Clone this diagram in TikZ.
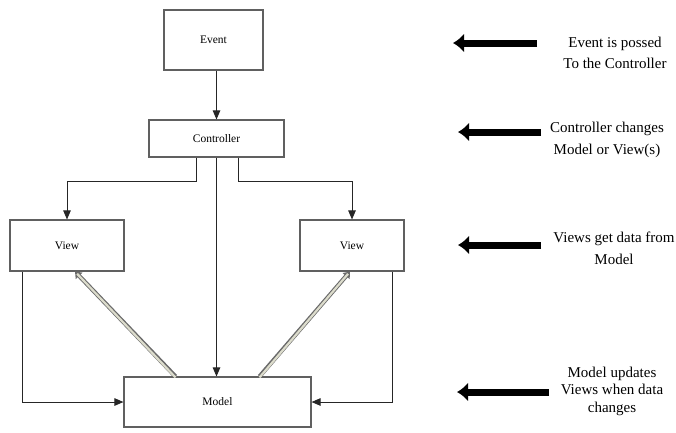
\documentclass[tikz,border=0pt]{standalone}
\usepackage{fontspec}
\setmainfont{Liberation Serif}
\usetikzlibrary{arrows.meta,calc}

\definecolor{boxline}{HTML}{606060}
\definecolor{pipefill}{HTML}{DCDCCC}
\definecolor{pipeline}{HTML}{6A6A6A}

\tikzset{
  box/.style={draw=boxline, line width=1.1pt, fill=white, inner sep=0pt,
    font=\fontsize{11.5}{13}\selectfont},
  conn/.style={draw=black!85, line width=0.9pt,
    -{Triangle[length=9pt,width=7.5pt]}},
  pipeouter/.style={draw=pipeline, line width=4.2pt,
    -{Triangle[length=6pt,width=9pt]}},
  pipeinner/.style={draw=pipefill, line width=2.2pt, shorten >=3pt},
  bigarrow/.style={draw=black, line width=7pt,
    -{Latex[length=11pt,width=19pt]}},
  note/.style={align=center, inner sep=0pt}
}

\begin{document}
\begin{tikzpicture}[x=1pt,y=-1pt]
\useasboundingbox (0,0) rectangle (676,432);

% boxes of the MVC diagram
\node[box, minimum width=99pt, minimum height=60pt] (event) at (213.5,40) {Event};
\node[box, minimum width=135pt, minimum height=37pt] (ctrl) at (216.5,138.5) {Controller};
\node[box, minimum width=114pt, minimum height=51pt] (lview) at (67,245.5) {View};
\node[box, minimum width=104pt, minimum height=51pt] (rview) at (352,245.5) {View};
\node[box, minimum width=187pt, minimum height=50pt] (model) at (217.5,402) {Model};

% control flow
\draw[conn] (ctrl.north |- event.south) -- (ctrl.north);
\draw[conn] ([xshift=-20.5pt]ctrl.south) -- ++(0,-24pt) -| (lview.north);
\draw[conn] ([xshift=21.5pt]ctrl.south) -- ++(0,-24pt) -| (rview.north);
\draw[conn] (ctrl.south) -- (ctrl.south |- model.north);
\draw[conn] ([xshift=13pt]lview.south west) |- (model.west);
\draw[conn] ([xshift=-12pt]rview.south east) |- (model.east);

% data pulled by the views from the model
\draw[pipeouter] ([xshift=-42pt]model.north) -- ([xshift=8pt]lview.south);
\draw[pipeinner] ([xshift=-42pt,yshift=-1pt]model.north) -- ([xshift=8pt]lview.south);
\draw[pipeouter] ([xshift=42pt]model.north) -- ([xshift=-2pt]rview.south);
\draw[pipeinner] ([xshift=42pt,yshift=-1pt]model.north) -- ([xshift=-2pt]rview.south);

% explanations on the right
\node[note, font=\fontsize{15}{21}\selectfont] (n1) at (615,53)
  {Event is possed\\To the Controller};
\node[note, font=\fontsize{15}{22}\selectfont] (n2) at (607,140)
  {Controller changes\\Model or View(s)};
\node[note, font=\fontsize{15}{22}\selectfont] (n3) at (614,248)
  {Views get data from\\Model};
\node[note, font=\fontsize{15}{17.5}\selectfont] (n4) at (612,391)
  {Model updates\\Views when data\\changes};

\draw[bigarrow] (537,43) -- (453,43);
\draw[bigarrow] (541,132) -- (458,132);
\draw[bigarrow] (541,245) -- (458,245);
\draw[bigarrow] (549,392) -- (457,392);
\end{tikzpicture}
\end{document}
